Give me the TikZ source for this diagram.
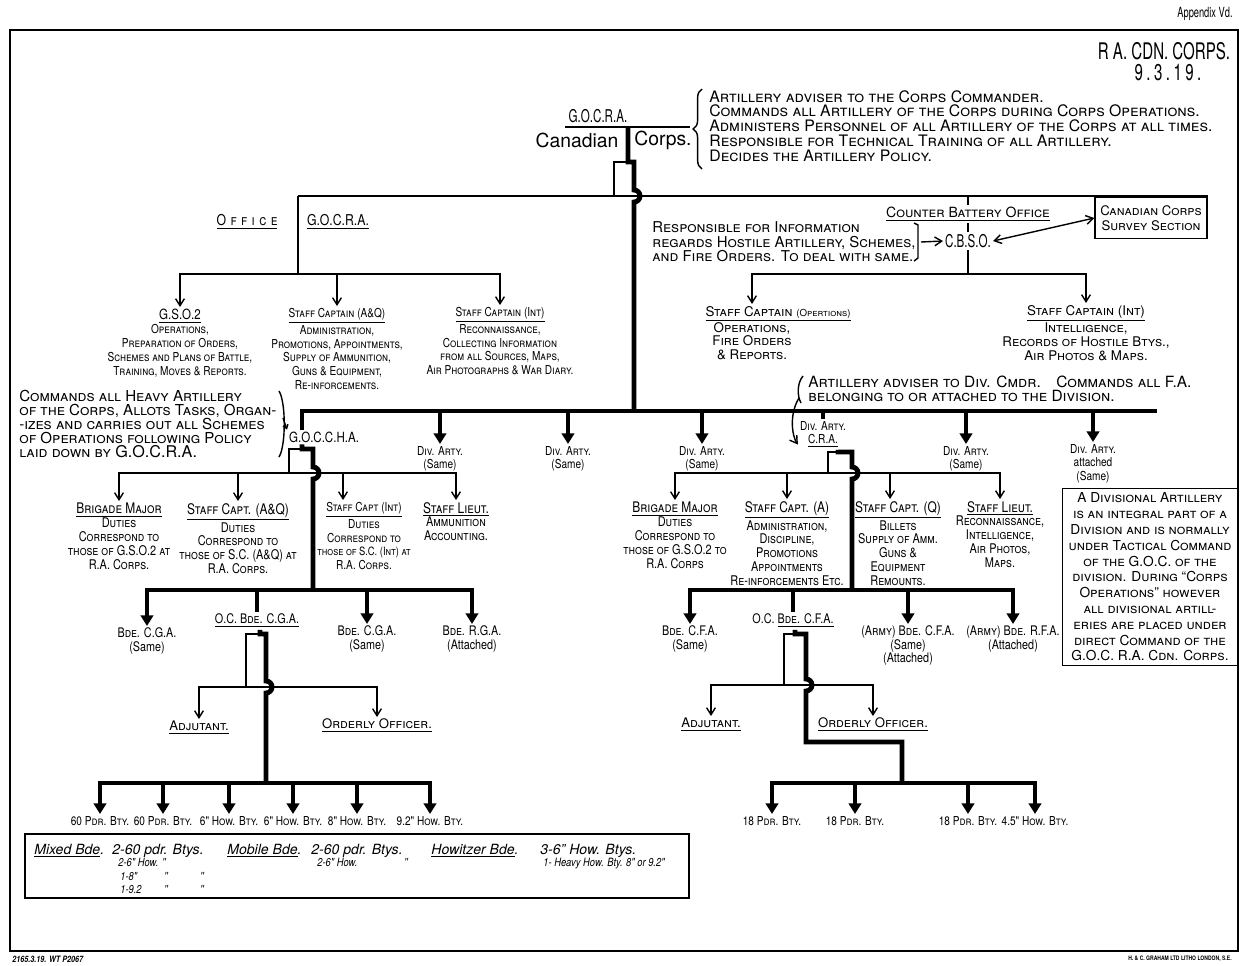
\documentclass[tikz,border=0pt]{standalone}
\usepackage{fontspec}
\setmainfont{TeX Gyre Heros}
\newfontfamily\lett[FakeStretch=0.82]{TeX Gyre Heros}
\newfontfamily\cond[FakeStretch=0.66]{TeX Gyre Heros}
\usetikzlibrary{arrows.meta,decorations.pathreplacing}
\newcommand\lc[1]{{\upshape #1}}
\newcommand\hdg[1]{{\fontsize{8.3}{8}\selectfont\underline{#1}}}

\begin{document}
\begin{tikzpicture}[x=0.02cm,y=-0.02cm,line join=miter,
  lbl/.style={font=\lett\scshape\fontsize{7}{7.9}\selectfont,align=center,anchor=north,inner sep=1pt},
  sub/.style={lbl,font=\lett\scshape\fontsize{7.6}{7.9}\selectfont},
  cbl/.style={lbl,font=\scshape\fontsize{7.6}{7.9}\selectfont},
  hd/.style={lbl,anchor=center},
  bde/.style={lbl,font=\lett\scshape\fontsize{7.5}{7.6}\selectfont},
  note/.style={font=\scshape\fontsize{8.5}{8.4}\selectfont,align=left,anchor=north west,inner sep=0pt},
  rank/.style={font=\cond\fontsize{10}{11}\selectfont,inner sep=1pt},
  leg/.style={font=\lett\itshape\fontsize{6.5}{7}\selectfont,anchor=base west,inner sep=0pt},
  legtop/.style={leg,font=\itshape\fontsize{8}{9}\selectfont},
  adm/.style={line width=0.8pt},
  cmd/.style={line width=2.8pt},
  admarr/.style={adm,-{Straight Barb[length=4pt,width=5pt]}},
  cmdarr/.style={cmd,-{Triangle[length=6pt,width=7pt]}}]
\useasboundingbox (0,0) rectangle (1241,965);
\draw[line width=1.1pt] (10,30) rectangle (1238,951);

% heading
\node[rank,font=\cond\fontsize{8}{9}\selectfont] (appx) at (1205,14) {Appendix Vd.};
\node[rank,font=\cond\fontsize{13}{14}\selectfont] (corpsid) at (1164,51) {R A. CDN. CORPS.};
\node[rank,font=\cond\fontsize{13}{14}\selectfont\addfontfeature{LetterSpace=15}] (dateid) at (1168,73) {9.3.19.};

% G.O.C.R.A.
\node[rank] (gocra) at (598,116) {G.O.C.R.A.};
\node[rank,font=\fontsize{11}{12}\selectfont] (canad) at (577,140) {Canadian};
\node[rank,font=\fontsize{11}{12}\selectfont] (corps) at (663,140) {Corps.};
\draw[adm] (565,127) -- (690,127);
\draw[adm,decorate,decoration={brace,amplitude=5pt}] (702,169) -- (702,89);
\node[note,font=\scshape\fontsize{9}{8.4}\selectfont] (gocranote) at (709,90) {Artillery adviser to the Corps Commander.\\
Commands all Artillery of the Corps during Corps Operations.\\
Administers Personnel of all Artillery of the Corps at all times.\\
Responsible for Technical Training of all Artillery.\\
Decides the Artillery Policy.};

% counter battery office (box first, for the top line)
\node[draw,adm,font=\scshape\fontsize{7.5}{8.5}\selectfont,align=center,minimum width=2.24cm,minimum height=0.82cm,inner sep=1pt] (survey) at (1151,218) {Canadian Corps\\Survey Section};

\coordinate (cmdtop) at (628,127);
\coordinate (cmdjog) at (628,162);
\coordinate (officetap) at (298,196);
\coordinate (dabus) at (634,411);
\draw[adm] (cmdjog) -- (614,162) -- (614,196);
\draw[adm] (officetap) -| (survey.north east);
\draw[cmd] (cmdtop) -- (cmdjog) -- (634,162) -- (634,190) arc[start angle=-90,end angle=90,radius=6] -- (dabus);

% office G.O.C.R.A.
\node[hd,font=\lett\scshape\fontsize{8.5}{9}\selectfont\addfontfeature{LetterSpace=30}] (office) at (247,222) {\underline{Office}};
\node[hd,font=\lett\fontsize{8.5}{9}\selectfont] (officegoc) at (338,222) {\underline{G.O.C.R.A.}};
\coordinate (officebus) at (298,274);
\draw[adm] (officetap) -- (officebus);
\node[lbl] (gso) at (180,307) {\underline{\fontsize{8}{8}\selectfont G.S.O.2}\\Operations,\\Preparation of Orders,\\Schemes and Plans of Battle,\\Training, Moves \& Reports.};
\node[lbl] (sca) at (337,306) {\underline{Staff Captain (A\&Q)}\\Administration,\\Promotions, Appointments,\\Supply of Ammunition,\\Guns \& Equipment,\\Re-inforcements.};
\node[lbl] (sci) at (500,305) {\underline{Staff Captain (Int)}\\Reconnaissance,\\Collecting Information\\from all Sources, Maps,\\Air Photographs \& War Diary.};
\draw[admarr] (officebus) -| (gso.north);
\draw[admarr] (officebus) -| (sca.north);
\draw[admarr] (officebus) -| (sci.north);

\node[hd,font=\scshape\fontsize{8}{9}\selectfont] (cbo) at (968,214) {\underline{Counter Battery Office}};
\draw[adm] (cbo.north |- officetap) -- (cbo.north);
\node[note] (cbonote) at (652,221) {Responsible for Information\\regards Hostile Artillery, Schemes,\\and Fire Orders. To deal with same.};
\draw[adm] (914,223) -- (918,225) -- (918,258) -- (914,261);
\node[rank] (cbso) at (968,241) {C.B.S.O.};
\coordinate (cbobrk) at (921,242);
\draw[adm] (cbo.south) -- (cbso.north);
\draw[admarr] (cbobrk) -- (cbso.west);
\draw[adm,{Straight Barb[length=4pt,width=5pt]}-{Straight Barb[length=4pt,width=5pt]}] (cbso.east) -- (survey.west);
\coordinate (cbobus) at (968,274);
\draw[adm] (cbso.south) -- (cbobus);
\node[cbl] (sco) at (778,304) {\underline{Staff Captain {\fontsize{5.5}{6}\selectfont(Opertions)}}};
\node[cbl] (scob) at (752,320) {Operations,\\Fire Orders\\\& Reports.};
\node[cbl] (scint) at (1086,303) {\underline{Staff Captain (Int)}\\Intelligence,\\Records of Hostile Btys.,\\Air Photos \& Maps.};
\draw[admarr] (cbobus) -| (scob.north |- sco.north);
\draw[admarr] (cbobus) -| (scint.north);

% divisional artilleries
\coordinate (habus) at (302,411);
\coordinate (dabusend) at (1157,411);
\node[rank,font=\lett\fontsize{8}{9}\selectfont,anchor=west] (gocha) at (287,437) {G.O.C.C.H.A.};
\draw[cmd] (habus |- gocha.north) -- (habus) -- (dabusend);
\node[note,font=\scshape\fontsize{8.6}{7.9}\selectfont] (hanote) at (19,390) {Commands all Heavy Artillery\\of the Corps, Allots Tasks, Organ-\\-izes and carries out all Schemes\\of Operations following Policy\\laid down by {\fontsize{9.2}{7.9}\selectfont G.O.C.R.A.}};
\draw[adm] (279,391) .. controls (286,402) and (286,446) .. (279,457);
\coordinate (habrk) at (283,418);
\draw[adm,-{Straight Barb[length=2pt,width=3pt]}] (habrk) -- (gocha.north west);

\node[lbl] (da1) at (440,444) {Div. Arty.\\\lc{(Same)}};
\node[lbl] (da2) at (568,444) {Div. Arty.\\\lc{(Same)}};
\node[lbl] (da3) at (702,444) {Div. Arty.\\\lc{(Same)}};
\node[lbl] (cra) at (823,419) {Div. Arty.\\\underline{C.R.A.}};
\node[lbl] (da5) at (966,444) {Div. Arty.\\\lc{(Same)}};
\node[lbl] (da6) at (1093,442) {Div. Arty.\\\lc{attached}\\\lc{(Same)}};
\foreach \n in {da1,da2,da3,da5,da6} \draw[cmdarr] (\n.north |- dabus) -- (\n.north);
\draw[cmd] (cra.north |- dabus) -- (cra.north);
\node[note,font=\scshape\fontsize{8.8}{7.9}\selectfont] (cranote) at (808,376) {Artillery adviser to Div. Cmdr.\quad Commands all F.A.\\belonging to or attached to the Division.};
\draw[adm] (803,376) .. controls (797,383) and (797,396) .. (801,403);
\coordinate (crabrk) at (799,398);
\draw[admarr] (crabrk) .. controls (789,414) and (792,436) .. ([yshift=3pt]cra.south west);

% heavy artillery staff
\coordinate (hajog) at (302,449);
\coordinate (hatap) at (313,590);
\coordinate (habus2) at (289,473);
\coordinate (si1x) at (343,0);
\draw[cmd] (hajog |- gocha.south) -- (hajog) -- (313,449) -- (313,467) arc[start angle=-90,end angle=90,radius=6] -- (hatap);
\draw[adm] (hajog) -- (289,449) -- (habus2);
\node[sub] (bm1) at (119,501) {\hdg{Brigade Major}\\Duties\\Correspond to\\those of G.S.O.2 at\\R.A. Corps.};
\node[sub] (sc1) at (238,501) {\hdg{Staff Capt. (A\&Q)}\\Duties\\Correspond to\\those of S.C. (A\&Q) at\\R.A. Corps.};
\node[lbl] (si1) at (364,500) {\underline{Staff Capt (Int)}\\Duties\\Correspond to\\{\fontsize{6.5}{7.9}\selectfont those of S.C. (Int) at}\\R.A. Corps.};
\node[sub] (sl1) at (456,500) {\hdg{Staff Lieut.}\\Ammunition\\Accounting.};
\draw[admarr] (habus2) -| (bm1.north);
\draw[admarr] (habus2) -| (sc1.north);
\draw[admarr] (habus2) -| (si1x |- si1.north);
\draw[admarr] (habus2) -| (sl1.north);

% garrison brigades
\node[bde] (bg1) at (147,626) {Bde. C.G.A.\\\lc{(Same)}};
\node[bde] (ocg) at (257,612) {\underline{O.C. Bde. C.G.A.}};
\node[bde] (bg3) at (367,624) {Bde. C.G.A.\\\lc{(Same)}};
\node[bde] (br1) at (472,624) {Bde. R.G.A.\\\lc{(Attached)}};
\draw[cmdarr] (hatap) -| (bg1.north);
\draw[cmdarr] (hatap) -| (br1.north);
\draw[cmdarr] (bg3.north |- hatap) -- (bg3.north);
\draw[cmd] (ocg.north |- hatap) -- (ocg.north);

\coordinate (cgajog) at (260,634);
\coordinate (cgabus) at (246,687);
\coordinate (gbtap) at (266,783);
\draw[cmd] (ocg.south -| cgajog) -- (cgajog) -- (266,634) -- (266,681) arc[start angle=-90,end angle=90,radius=6] -- (gbtap);
\draw[adm] (cgajog) -- (246,634) -- (cgabus);
\node[cbl,font=\scshape\fontsize{7.5}{8}\selectfont] (adj1) at (199,719) {\underline{Adjutant.}};
\node[cbl,font=\scshape\fontsize{7.5}{8}\selectfont] (oo1) at (377,717) {\underline{Orderly Officer.}};
\draw[admarr] (cgabus) -| (adj1.north);
\draw[admarr] (cgabus) -| (oo1.north);

\node[lbl] (g1) at (100,814) {60 Pdr. Bty.};
\node[lbl] (g2) at (163,814) {60 Pdr. Bty.};
\node[lbl] (g3) at (229,814) {6" How. Bty.};
\node[lbl] (g4) at (293,814) {6" How. Bty.};
\node[lbl] (g5) at (357,814) {8" How. Bty.};
\node[lbl] (g6) at (430,814) {9.2" How. Bty.};
\draw[cmdarr] (gbtap) -| (g1.north);
\draw[cmdarr] (gbtap) -| (g6.north);
\foreach \n in {g2,g3,g4,g5} \draw[cmdarr] (\n.north |- gbtap) -- (\n.north);

% divisional staff
\coordinate (crajog) at (838,452);
\coordinate (crabus) at (828,473);
\coordinate (fatap) at (852,590);
\coordinate (sq2x) at (890,0);
\draw[cmd] (cra.south -| crajog) -- (crajog) -- (852,452) -- (852,467) arc[start angle=-90,end angle=90,radius=6] -- (fatap);
\draw[adm] (crajog) -- (828,452) -- (crabus);
\node[sub] (bm2) at (675,500) {\hdg{Brigade Major}\\Duties\\Correspond to\\those of G.S.O.2 to\\R.A. Corps};
\node[sub] (sa2) at (787,499) {\hdg{Staff Capt. (A)}\\Administration,\\Discipline,\\Promotions\\Appointments\\Re-inforcements Etc.};
\node[sub] (sq2) at (898,499) {\hdg{Staff Capt. (Q)}\\Billets\\Supply of Amm.\\Guns \&\\Equipment\\Remounts.};
\node[sub] (sl2) at (1000,499) {\hdg{Staff Lieut.}\\Reconnaissance,\\Intelligence,\\Air Photos,\\Maps.};
\draw[admarr] (crabus) -| (bm2.north);
\draw[admarr] (crabus) -| (sa2.north);
\draw[admarr] (crabus) -| (sq2x |- sq2.north);
\draw[admarr] (crabus) -| (sl2.north);

% field brigades
\node[bde] (bf1) at (690,624) {Bde. C.F.A.\\\lc{(Same)}};
\node[bde] (ocf) at (793,612) {O.C. \underline{Bde. C.F.A.}};
\node[bde] (bf3) at (908,624) {(Army) Bde. C.F.A.\\\lc{(Same)}\\\lc{(Attached)}};
\node[bde] (bf4) at (1013,624) {(Army) Bde. R.F.A.\\\lc{(Attached)}};
\draw[cmdarr] (fatap) -| (bf1.north);
\draw[cmdarr] (fatap) -| (bf4.north);
\draw[cmdarr] (bf3.north |- fatap) -- (bf3.north);
\draw[cmd] (ocf.north |- fatap) -- (ocf.north);

\coordinate (cfajog) at (795,634);
\coordinate (cfabus) at (784,685);
\coordinate (fbtap) at (902,783);
\draw[cmd] (ocf.south -| cfajog) -- (cfajog) -- (806,634) -- (806,679) arc[start angle=-90,end angle=90,radius=6] -- (806,742) -| (fbtap);
\draw[adm] (cfajog) -- (784,634) -- (cfabus);
\node[cbl,font=\scshape\fontsize{7.5}{8}\selectfont] (adj2) at (711,716) {\underline{Adjutant.}};
\node[cbl,font=\scshape\fontsize{7.5}{8}\selectfont] (oo2) at (873,716) {\underline{Orderly Officer.}};
\draw[admarr] (cfabus) -| (adj2.north);
\draw[admarr] (cfabus) -| (oo2.north);

\node[lbl] (f1) at (772,814) {18 Pdr. Bty.};
\node[lbl] (f2) at (855,814) {18 Pdr. Bty.};
\node[lbl] (f3) at (968,814) {18 Pdr. Bty.};
\node[lbl] (f4) at (1035,814) {4.5" How. Bty.};
\draw[cmdarr] (fbtap) -| (f1.north);
\draw[cmdarr] (fbtap) -| (f4.north);
\foreach \n in {f2,f3} \draw[cmdarr] (\n.north |- fbtap) -- (\n.north);

% divisional artillery box
\node[draw,adm,font=\scshape\fontsize{7.8}{9}\selectfont,align=center,minimum width=3.5cm,minimum height=3.54cm,inner sep=1pt] (divbox) at (1150,577) {A Divisional Artillery\\is an integral part of a\\Division and is normally\\under Tactical Command\\of the G.O.C. of the\\division. During ``Corps\\Operations'' however\\all divisional artill-\\eries are placed under\\direct Command of the\\G.O.C. R.A. Cdn. Corps.};

% legend
\draw[line width=1pt] (25,834) rectangle (689,898);
\node[legtop] (lmix) at (34,854) {\underline{Mixed Bde}.};
\node[legtop] (lmixa) at (112,854) {2-60 pdr. Btys.};
\node[legtop] (lmob) at (227,854) {\underline{Mobile Bde}.};
\node[legtop] (lmoba) at (311,854) {2-60 pdr. Btys.};
\node[legtop] (lhow) at (431,854) {\underline{Howitzer Bde}.};
\node[legtop] (lhowa) at (540,854) {3-6" How. Btys.};
\node[leg] (lmixb) at (118,866) {2-6" How.};
\node[leg] (lmixbd) at (162,866) {''};
\node[leg] (lmobb) at (317,866) {2-6" How.};
\node[leg] (lmobbd) at (404,866) {''};
\node[leg] (lhowb) at (543,866) {1- Heavy How. Bty. 8" or 9.2"};
\node[leg] (lmixc) at (120,880) {1-8"};
\node[leg] (lmixcd) at (164,880) {''};
\node[leg] (lmixce) at (200,880) {''};
\node[leg] (lmixd) at (120,893) {1-9.2};
\node[leg] (lmixdd) at (164,893) {''};
\node[leg] (lmixde) at (200,893) {''};

% imprint
\node[font=\lett\bfseries\itshape\fontsize{5}{6}\selectfont,anchor=west,inner sep=0pt] (printno) at (12,959) {2165.3.19. WT P2067};
\node[font=\lett\bfseries\fontsize{3.5}{4}\selectfont,anchor=east,inner sep=0pt] (printer) at (1232,959) {H. \& C. GRAHAM LTD LITHO LONDON, S.E.};
\end{tikzpicture}
\end{document}
